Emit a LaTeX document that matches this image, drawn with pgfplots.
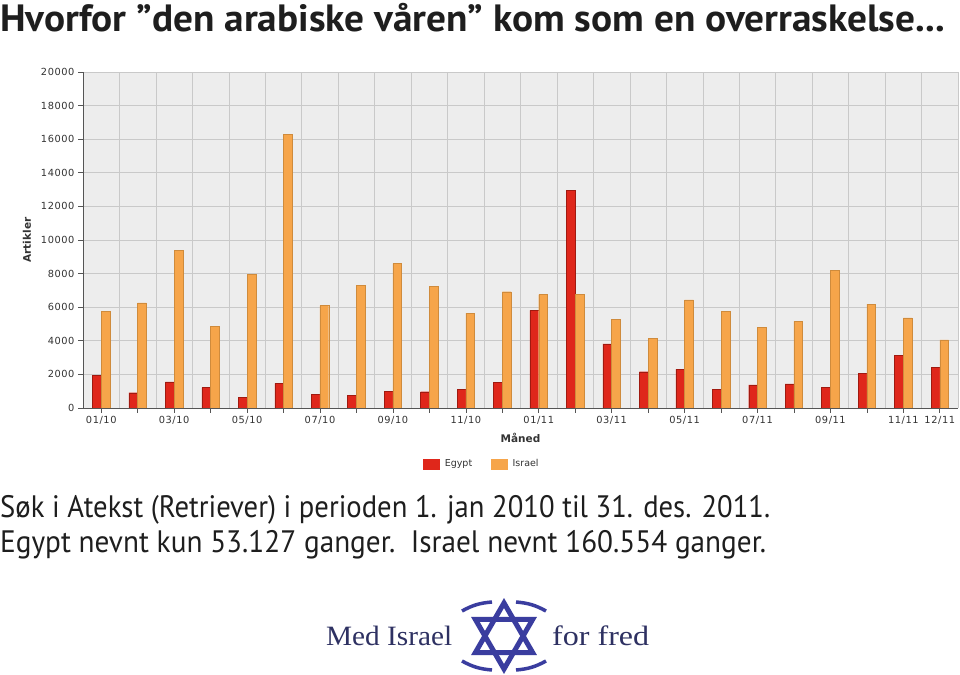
\documentclass[border=0pt]{standalone}
\usepackage{pgfplots}
\pgfplotsset{compat=1.18}
\usepackage{pgfplotstable}
\usepackage{graphicx}
\usepackage{fontspec}
\setmainfont{PT Sans}
\newfontfamily\tickfont[LetterSpace=6]{DejaVu Sans}
\newfontfamily\labfont{DejaVu Sans}
\newfontfamily\logofont{Liberation Serif}
\definecolor{egypt}{HTML}{DF271B}
\definecolor{egyptedge}{HTML}{A01A10}
\definecolor{israel}{HTML}{F6A54A}
\definecolor{israeledge}{HTML}{CF8B3C}
\definecolor{plotbg}{HTML}{EDEDED}
\definecolor{gridgray}{HTML}{C9C9C9}
\definecolor{axisgray}{HTML}{555555}
\definecolor{ticktext}{HTML}{333333}
\definecolor{titletext}{HTML}{1E1E1E}
\definecolor{logonavy}{HTML}{2E3162}
\definecolor{logoblue}{HTML}{3A3D9F}

\pgfplotstableread{
m egypt israel
0 1950 5750
1 910 6250
2 1550 9400
3 1210 4860
4 640 7950
5 1470 16290
6 810 6090
7 750 7300
8 1010 8590
9 970 7240
10 1110 5650
11 1530 6920
12 5810 6750
13 12950 6750
14 3810 5260
15 2160 4150
16 2320 6430
17 1110 5750
18 1370 4780
19 1430 5160
20 1210 8190
21 2060 6190
22 3120 5360
23 2400 4050
}\datatable

\begin{document}
\begin{tikzpicture}[x=1pt,y=1pt]
\path[use as bounding box, fill=white] (0,0) rectangle (960,674);

% title
\node[anchor=base west, inner sep=0pt, text=titletext] at (0,642)
  {\resizebox{945pt}{\height}{\fontsize{38}{40}\selectfont\bfseries Hvorfor ”den arabiske våren” kom som en overraskelse...}};

\begin{axis}[
  at={(83pt,266pt)}, anchor=south west,
  width=875pt, height=336pt, scale only axis,
  xmin=-0.5, xmax=23.5, ymin=0, ymax=20000,
  axis x line*=bottom, axis y line*=left,
  axis line style={draw=axisgray, line width=0.8pt, -},
  axis background/.style={fill=plotbg},
  xtick={0,...,23},
  xticklabels={01/10,,03/10,,05/10,,07/10,,09/10,,11/10,,01/11,,03/11,,05/11,,07/11,,09/11,,11/11,12/11},
  minor xtick={-0.5,0.5,...,23.5},
  xminorgrids, ymajorgrids,
  minor grid style={draw=gridgray, line width=0.6pt},
  major grid style={draw=gridgray, line width=0.6pt},
  minor tick length=0pt,
  major tick length=5pt,
  tick align=outside,
  tick style={draw=axisgray, line width=0.6pt},
  ytick={0,2000,...,20000},
  scaled y ticks=false,
  yticklabel style={/pgf/number format/fixed, /pgf/number format/1000 sep={}},
  /pgf/number format/assume math mode=true,
  tick label style={font=\tickfont\fontsize{9.8}{11}\selectfont, text=ticktext},
  xlabel={Måned},
  xlabel style={at={(axis description cs:0.5,-0.088)}, anchor=center, font=\labfont\bfseries\fontsize{10.5}{12}\selectfont, text=ticktext},
  ylabel={Artikler},
  ylabel style={at={(axis description cs:-0.064,0.5)}, anchor=center, font=\labfont\bfseries\fontsize{10.5}{12}\selectfont, text=ticktext},
  legend style={at={(axis description cs:0.456,-0.167)}, anchor=center, draw=none, fill=none,
    font=\labfont\fontsize{9.5}{11}\selectfont, text=ticktext,
    /tikz/every odd column/.append style={column sep=3pt},
    /tikz/every even column/.append style={column sep=17pt}},
  legend columns=2,
]
\addplot[ybar, bar width=0.24, bar shift=-0.12, fill=egypt, draw=egyptedge, line width=0.4pt,
  legend image code/.code={\fill[egypt] (0pt,-5pt) rectangle (16pt,5pt);}]
  table[x=m, y=egypt] {\datatable};
\addlegendentry{Egypt}
\addplot[ybar, bar width=0.24, bar shift=0.12, fill=israel, draw=israeledge, line width=0.4pt,
  legend image code/.code={\fill[israel] (0pt,-5pt) rectangle (16pt,5pt);}]
  table[x=m, y=israel] {\datatable};
\addlegendentry{Israel}
\end{axis}

% body text
\node[anchor=base west, inner sep=0pt, text=titletext] at (0,156)
  {\resizebox{770pt}{\height}{\fontsize{31}{36}\selectfont Søk i Atekst (Retriever) i perioden 1. jan 2010 til 31. des. 2011.}};
\node[anchor=base west, inner sep=0pt, text=titletext] at (0,121)
  {\resizebox{766pt}{\height}{\fontsize{31}{36}\selectfont Egypt nevnt kun 53.127 ganger.\ \ Israel nevnt 160.554 ganger.}};

% logo
\node[anchor=base west, inner sep=0pt, text=logonavy] at (326,29)
  {\resizebox{126pt}{\height}{\fontsize{28}{30}\logofont Med Israel}};
\node[anchor=base west, inner sep=0pt, text=logonavy] at (552,29)
  {\resizebox{97pt}{\height}{\fontsize{28}{30}\logofont for fred}};
\begin{scope}[draw=logoblue, line width=5pt, line join=miter]
\draw (504,71) -- (475.4,21.5) -- (532.6,21.5) -- cycle;
\draw (504,5) -- (475.4,54.5) -- (532.6,54.5) -- cycle;
\end{scope}
\begin{scope}[draw=logoblue, line width=3.5pt]
\draw (462,63) to[bend left=12] (492,72);
\draw (516,72) to[bend left=12] (546,63);
\draw (462,13) to[bend right=12] (492,4);
\draw (516,4) to[bend right=12] (546,13);
\end{scope}
\end{tikzpicture}
\end{document}
